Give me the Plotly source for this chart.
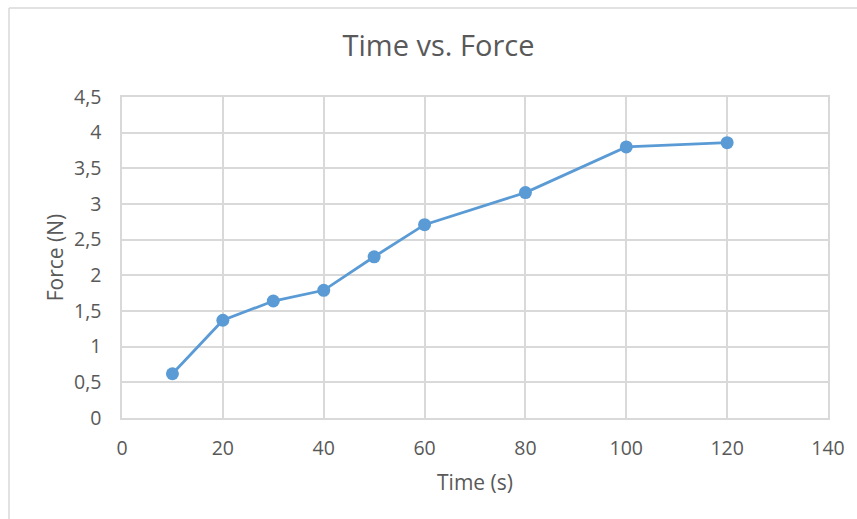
import plotly.graph_objects as go

time_s = [10, 20, 30, 40, 50, 60, 80, 100, 120]
force_n = [0.62, 1.37, 1.64, 1.79, 2.26, 2.71, 3.16, 3.80, 3.86]
x_ticks = [0, 20, 40, 60, 80, 100, 120, 140]
y_ticks = [0, 0.5, 1, 1.5, 2, 2.5, 3, 3.5, 4, 4.5]

blue = "#5B9BD5"
grid = "#D9D9D9"
text = "#595959"
font = "Open Sans, Liberation Sans, sans-serif"

fig = go.Figure(go.Scatter(
    x=time_s, y=force_n, mode="lines+markers",
    line=dict(color=blue, width=2.8),
    marker=dict(color=blue, size=13),
    showlegend=False, hoverinfo="skip",
))

fig.update_layout(
    width=857, height=519,
    margin=dict(l=122, r=29, t=97, b=101),
    paper_bgcolor="white", plot_bgcolor="white",
    separators=",.",
    font=dict(family=font, color=text, size=18),
    title=dict(text="Time vs. Force", x=438.5 / 857, xanchor="center",
               y=1 - 46 / 519, yanchor="middle",
               font=dict(family=font, size=29, color=text)),
    shapes=[
        dict(type="line", xref="paper", yref="paper",
             x0=(9 - 122) / 706, x1=(857 - 122) / 706 + 0.01,
             y0=(519 - 101 - 8) / 321, y1=(519 - 101 - 8) / 321,
             line=dict(color=grid, width=1.5)),
        dict(type="line", xref="paper", yref="paper",
             x0=(9 - 122) / 706, x1=(9 - 122) / 706,
             y0=-101 / 321 - 0.01, y1=(519 - 101 - 8) / 321,
             line=dict(color=grid, width=1.5)),
    ],
)

fig.update_xaxes(
    range=[0, 140], tickvals=x_ticks, ticktext=[str(v) for v in x_ticks],
    showgrid=True, gridcolor=grid, gridwidth=1.5,
    showline=True, linecolor=grid, linewidth=1.5, mirror=True,
    zeroline=False, ticks="", ticklabelstandoff=12,
    tickfont=dict(size=19.5, color=text),
    title=dict(text="Time (s)", font=dict(size=21, color=text), standoff=15),
)
fig.update_yaxes(
    range=[0, 4.5], tickvals=y_ticks,
    ticktext=[("%g" % v).replace(".", ",") for v in y_ticks],
    showgrid=True, gridcolor=grid, gridwidth=1.5,
    showline=True, linecolor=grid, linewidth=1.5, mirror=True,
    zeroline=False, ticks="", ticklabelstandoff=15,
    tickfont=dict(size=19.5, color=text),
    title=dict(text="Force (N)", font=dict(size=21, color=text), standoff=5),
)

fig.write_html("out.html")
